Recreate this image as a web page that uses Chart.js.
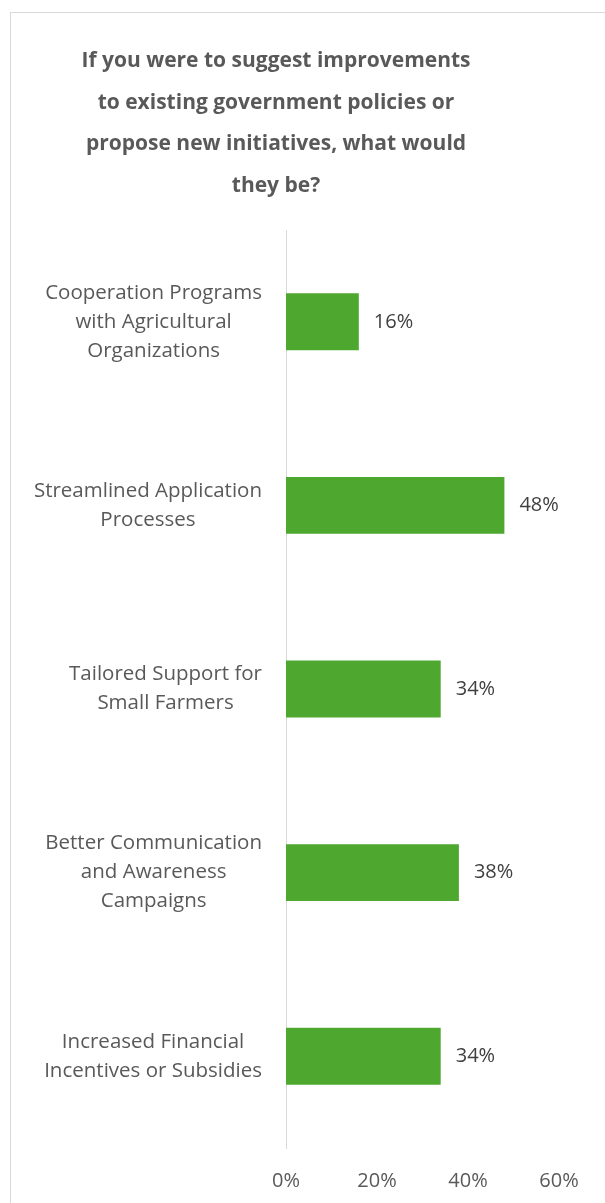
<!DOCTYPE html>
<html lang="en">
<head>
<meta charset="UTF-8">
<title>Government policy improvements</title>
<script src="https://cdn.jsdelivr.net/npm/chart.js@4.4.1/dist/chart.umd.min.js"></script>
<style>
  body { margin: 0; overflow: hidden; background: #fff; }
  #frame { position: absolute; left: 10px; top: 12px; width: 700px; height: 1300px; border: 1px solid #d9d9d9; }
  #chart { position: absolute; left: 0; top: 0; }
</style>
</head>
<body>
<div id="frame"></div>
<canvas id="chart" width="605" height="1203"></canvas>

<script>
const titleLines = [
  "If you were to suggest improvements",
  "to existing government policies or",
  "propose new initiatives, what would",
  "they be?"
];
const categories = [
  ["Cooperation Programs", "with Agricultural", "Organizations"],
  ["Streamlined Application", "Processes"],
  ["Tailored Support for", "Small Farmers"],
  ["Better Communication", "and Awareness", "Campaigns"],
  ["Increased Financial", "Incentives or Subsidies"]
];
const shares = [16, 48, 34, 38, 34];
const xTicks = [0, 20, 40, 60];

const FONT = "'Open Sans', 'Noto Sans', sans-serif";
const GREY = "#595959";

// title lines, centred over the plot column
const titlePlugin = {
  id: "titleLines",
  afterDraw(chart) {
    const ctx = chart.ctx;
    ctx.save();
    ctx.font = "bold 21px " + FONT;
    ctx.fillStyle = GREY;
    ctx.textAlign = "center";
    ctx.textBaseline = "middle";
    titleLines.forEach((t, i) => ctx.fillText(t, 276, 61 + i * 41.7));
    ctx.restore();
  }
};

// category labels: each block right aligned, lines centred inside the block
const catLabels = {
  id: "catLabels",
  afterDraw(chart) {
    const ctx = chart.ctx;
    const y = chart.scales.y;
    ctx.save();
    ctx.font = "20.5px " + FONT;
    ctx.fillStyle = GREY;
    ctx.textAlign = "center";
    ctx.textBaseline = "middle";
    categories.forEach((lines, i) => {
      const cy = y.getPixelForValue(i);
      const widest = Math.max(...lines.map(l => ctx.measureText(l).width));
      const cx = y.right - 24 - widest / 2;
      const lh = 29;
      lines.forEach((l, k) => ctx.fillText(l, cx, cy - (lines.length - 1) * lh / 2 + k * lh));
    });
    ctx.restore();
  }
};

// value labels at the end of each bar
const valueLabels = {
  id: "valueLabels",
  afterDatasetsDraw(chart) {
    const ctx = chart.ctx;
    const meta = chart.getDatasetMeta(0);
    ctx.save();
    ctx.font = "20px " + FONT;
    ctx.fillStyle = "#404040";
    ctx.textAlign = "left";
    ctx.textBaseline = "middle";
    meta.data.forEach((bar, i) => ctx.fillText(shares[i] + "%", bar.x + 15, bar.y));
    ctx.restore();
  }
};

new Chart(document.getElementById("chart"), {
  type: "bar",
  data: {
    labels: categories,
    datasets: [{
      data: shares,
      backgroundColor: "#4ea72e",
      borderWidth: 0,
      categoryPercentage: 1,
      barPercentage: 0.31
    }]
  },
  options: {
    indexAxis: "y",
    responsive: false,
    animation: false,
    layout: { padding: { top: 230, right: 46, left: 0, bottom: 0 } },
    plugins: { legend: { display: false }, tooltip: { enabled: false }, title: { display: false } },
    scales: {
      x: {
        min: 0,
        max: 60,
        afterBuildTicks: s => { s.ticks = xTicks.map(v => ({ value: v })); },
        grid: { display: false },
        border: { display: false },
        ticks: {
          padding: 13,
          color: GREY,
          font: { family: FONT, size: 20 },
          callback: v => v + "%"
        },
        afterFit: s => { s.height = 55; }
      },
      y: {
        grid: { display: false },
        border: { display: true, color: "#d9d9d9", width: 1 },
        ticks: { display: false },
        afterFit: s => { s.width = 286; }
      }
    }
  },
  plugins: [titlePlugin, catLabels, valueLabels]
});
</script>
</body>
</html>
